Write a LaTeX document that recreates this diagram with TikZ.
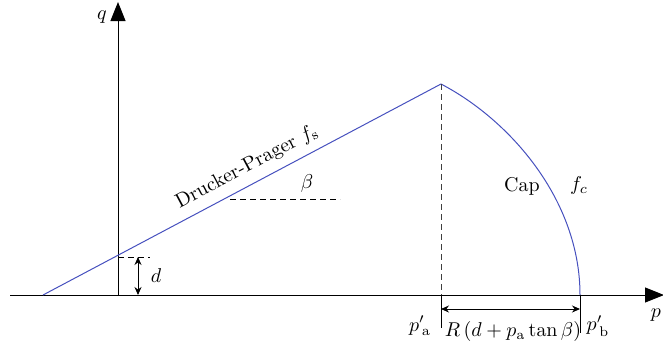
\documentclass[tikz,border=0pt]{standalone}
\usetikzlibrary{arrows.meta}
\definecolor{capblue}{RGB}{70,80,190}
\begin{document}
\begin{tikzpicture}[x=1pt,y=-1pt,
  axis/.style={line width=1pt,-{Triangle[length=19pt,width=15pt]}},
  curve/.style={draw=capblue,line width=1pt},
  dashline/.style={dash pattern=on 6pt off 4pt,line width=0.9pt},
  dim/.style={line width=0.9pt,{Stealth[length=8pt,width=7pt]}-{Stealth[length=8pt,width=7pt]}},
  lbl/.style={inner sep=0pt,scale=2}]
\useasboundingbox (0,0) rectangle (663,349);
\coordinate (O) at (118,295);
\coordinate (qtop) at (118,2);
\coordinate (pleft) at (10,295);
\coordinate (pright) at (664,295);
\coordinate (dp0) at (43,295);
\coordinate (peak) at (441,84);
\coordinate (pa) at (441,295);
\coordinate (pb) at (580,295);
\coordinate (patick) at (441,328);
\coordinate (pbtick) at (580,333);
\coordinate (dint) at (118,257);
\coordinate (dend) at (150,257);
\coordinate (darrtop) at (138,257);
\coordinate (darrbot) at (138,295);
\coordinate (b0) at (230,199);
\coordinate (b1) at (340,199);
\coordinate (ra) at (441,309);
\coordinate (rb) at (580,309);
% axes
\draw[axis] (O) -- (qtop);
\draw[axis] (pleft) -- (pright);
% DP line
\draw[curve] (dp0) -- (peak);
% cap
\draw[curve] (peak) .. controls (510,120) and (580,200) .. (pb);
% dashed vertical
\draw[dashline,color=black!75] (peak) -- (pa);
\draw[line width=0.9pt] (pa) -- (patick);
\draw[line width=0.9pt] (pb) -- (pbtick);
% d
\draw[dashline] (dint) -- (dend);
\draw[dim] (darrtop) -- (darrbot);
% beta
\draw[dashline] (b0) -- (b1);
% R arrow
\draw[dim] (ra) -- (rb);
% labels
\node[lbl] (ql) at (102,17) {$q$};
\node[lbl] (pl) at (656,315) {$p$};
\node[lbl] (dl) at (156,276) {$d$};
\node[lbl] (bl) at (307,183) {$\beta$};
\node[lbl,rotate=28] (dpl) at (247,167) {Drucker-Prager $f_{\mathrm{s}}$};
\node[lbl] (capl) at (522,186) {Cap};
\node[lbl] (fcl) at (579,185) {$f_c$};
\node[lbl] (pal) at (420,326) {$p'_{\,\mathrm{a}}$};
\node[lbl] (pbl) at (598,326) {$p'_{\,\mathrm{b}}$};
\node[lbl] (rl) at (513,331) {$R\,(d+p_{\mathrm{a}}\tan\beta)$};
\end{tikzpicture}
\end{document}
